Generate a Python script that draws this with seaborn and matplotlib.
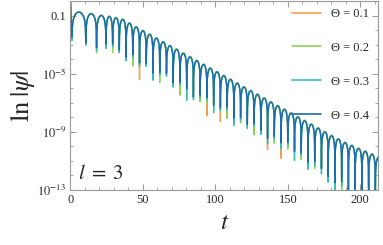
import numpy as np
import pandas as pd
import matplotlib
matplotlib.use('Agg')
import matplotlib.pyplot as plt
import matplotlib.ticker as mticker
import seaborn as sns

# ---- data ----------------------------------------------------------------
thetas = ['0.1', '0.2', '0.3', '0.4']
colors = ['#F4A04C', '#8FD253', '#36C0AC', '#1A6CB2']

# times of the dips (zeros of psi)
t_dips = [1.0, 10.6, 18.0, 24.5, 29.1,
          33.7, 38.35, 43.0, 47.65, 52.3, 56.95, 61.6, 66.25, 70.9, 75.55,
          80.2, 84.85, 89.5, 94.15, 98.8, 103.45, 108.1, 112.75, 117.4, 122.05,
          126.7, 131.35, 136.0, 140.65, 145.3, 149.95, 154.6, 159.25, 163.9, 168.55,
          173.2, 177.85, 182.5, 187.15, 191.8, 196.45, 201.1, 205.75, 210.4, 215.05]

# log10 of the peak of each lobe between two dips
peak_log = [-0.77, -0.88, -1.0, -1.07, -1.16, -1.27,
            -1.53, -1.79, -2.05, -2.30, -2.56, -2.82, -3.08, -3.33, -3.60, -3.85,
            -4.11, -4.37, -4.63, -4.88, -5.14, -5.40, -5.66, -5.92, -6.18, -6.43,
            -6.69, -6.95, -7.21, -7.46, -7.72, -7.98, -8.24, -8.49, -8.75, -9.01,
            -9.27, -9.5, -9.75, -9.95, -10.15, -10.35, -10.55, -10.75]
start_log = 0.0

# small amplitude offset of each curve (decades)
amp_shift = [0.04, 0.03, 0.015, 0.0]

# how deep each dip goes below its neighbouring peaks (decades)
dip_depth_01 = [1.6, 1.9, 2.1, 1.8, 1.7, 2.0, 2.2, 1.8, 3.4,
                1.9, 2.3, 2.0, 1.8, 2.2, 1.9, 2.1, 2.4, 2.0,
                3.3, 2.2, 3.2, 1.8, 2.3, 2.0, 2.2, 1.9, 2.1,
                3.3, 2.0, 3.4, 1.9, 2.3, 2.1, 2.5, 2.2, 2.4,
                2.7, 2.9, 2.6, 3.1, 2.9, 3.2, 3.0, 3.3, 3.1]
dip_depth_02 = [2.0, 2.2, 2.6, 2.0, 2.4, 2.2, 2.1, 2.7, 2.3,
                2.1, 2.3, 2.8, 2.0, 2.2, 2.9, 2.3, 2.1, 2.6,
                2.4, 2.1, 2.3, 2.7, 2.0, 2.5, 2.2, 2.8, 2.1,
                2.3, 2.6, 2.1, 2.5, 2.2, 2.7, 2.4, 2.8, 2.6,
                3.0, 2.9, 3.3, 3.1, 3.4, 3.2, 3.6, 3.3, 3.5]
dip_depth_03 = [1.9, 2.1, 2.4, 2.2, 2.0, 2.3, 2.6, 2.1, 2.5,
                2.2, 2.9, 2.3, 2.1, 2.6, 2.2, 3.0, 2.7, 2.3,
                2.2, 2.8, 2.4, 2.1, 2.9, 2.3, 2.6, 2.2, 2.5,
                2.9, 2.3, 2.7, 2.2, 3.0, 2.4, 3.1, 2.6, 2.9,
                3.2, 3.5, 3.0, 3.6, 3.4, 3.7, 3.5, 3.8, 3.6]
dip_depth_04 = [1.7, 2.0, 2.2, 1.9, 1.8, 2.1, 2.3, 1.9, 2.2,
                2.0, 2.4, 2.1, 1.9, 2.3, 2.0, 2.2, 2.5, 2.1,
                2.0, 2.3, 2.2, 1.9, 2.4, 2.1, 2.3, 2.0, 2.2,
                2.5, 2.1, 2.3, 2.0, 2.4, 2.2, 2.6, 2.3, 2.5,
                2.8, 3.0, 2.7, 3.2, 3.0, 3.3, 3.1, 3.4, 3.2]
dip_depths = [dip_depth_01, dip_depth_02, dip_depth_03, dip_depth_04]


#building each curve lobe by lobe (|sin| shaped arches between the dips)
def build_curve(depths, shift):
    n = len(peak_log)
    floors = []
    for i in range(len(t_dips)):
        left = peak_log[i - 1] if i > 0 else peak_log[0]
        right = peak_log[i] if i < n else peak_log[n - 1]
        floors.append(min(left, right) + shift - depths[i])
    ts, ys = [0.0], [start_log + shift]
    s = np.linspace(0, 1, 41)
    for i in range(n):
        a, b = t_dips[i], t_dips[i + 1]
        y = peak_log[i] + shift + np.log10(np.maximum(np.sin(np.pi * s), 1e-30))
        y[0], y[-1] = floors[i], floors[i + 1]
        tt = a + (b - a) * s
        if i > 0:
            tt, y = tt[1:], y[1:]
        ts.extend(tt)
        ys.extend(y)
    return np.array(ts), 10 ** np.array(ys)


frames = []
for th, dd, sh in zip(thetas, dip_depths, amp_shift):
    t, psi = build_curve(dd, sh)
    frames.append(pd.DataFrame({'t': t, 'psi': psi, 'theta': '\u0398 = ' + th}))
df = pd.concat(frames, ignore_index=True)

# ---- plotting --------------------------------------------------------------
sns.set_style('ticks')
plt.rcParams['font.family'] = 'serif'
plt.rcParams['font.serif'] = ['Liberation Serif', 'DejaVu Serif']
plt.rcParams['mathtext.fontset'] = 'stix'

fig = plt.figure(figsize=(3.83, 2.45), dpi=100)
ax = fig.add_axes([0.184, 0.2245, 0.804, 0.771])
ax.set_yscale('log')

sns.lineplot(data=df, x='t', y='psi', hue='theta', palette=colors,
             estimator=None, sort=False, linewidth=1.0, ax=ax)

ax.set_xlim(0, 212.5)
ax.set_ylim(1e-13, 1)

ax.yaxis.set_major_locator(mticker.FixedLocator([1e-13, 1e-9, 1e-5, 0.1]))
ax.yaxis.set_major_formatter(mticker.FixedFormatter(
    [r'$10^{-13}$', r'$10^{-9}$', r'$10^{-5}$', '0.1']))
ax.yaxis.set_minor_locator(mticker.LogLocator(base=10, subs=(1.0,), numticks=30))
ax.yaxis.set_minor_formatter(mticker.NullFormatter())
ax.xaxis.set_major_locator(mticker.MultipleLocator(50))
ax.xaxis.set_minor_locator(mticker.MultipleLocator(10))

ax.tick_params(which='both', direction='in', top=True, right=True,
               color='#999999', labelsize=9, pad=3)
ax.tick_params(which='major', length=4, width=0.7)
ax.tick_params(which='minor', length=2, width=0.6)
for sp in ax.spines.values():
    sp.set_color('#999999')
    sp.set_linewidth(0.8)

ax.set_xlabel(r'$t$', fontsize=18, labelpad=4)
ax.set_ylabel(r'$\mathrm{ln}\;|\psi|$', fontsize=19, labelpad=0)

ax.text(0.025, 0.03, r'$l\;=\;3$', transform=ax.transAxes, fontsize=15,
        ha='left', va='bottom')

handles, labels = ax.get_legend_handles_labels()
for h in handles:
    h.set_linewidth(1.2)
ax.legend(handles, labels, loc='upper right', frameon=False, fontsize=9,
          labelspacing=1.75, handlelength=2.3, handletextpad=0.8,
          bbox_to_anchor=(0.985, 0.99), borderaxespad=0)

plt.savefig('out.png', dpi=100)
